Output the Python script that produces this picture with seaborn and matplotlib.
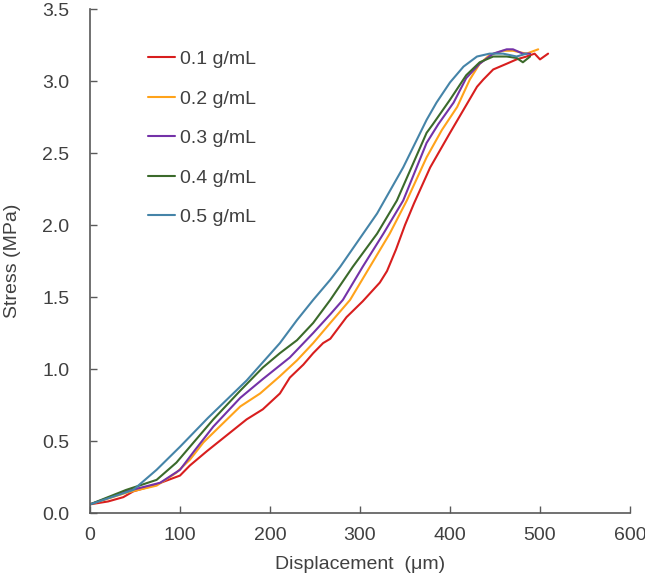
import numpy as np
import pandas as pd
import matplotlib
matplotlib.use("Agg")
import matplotlib.pyplot as plt
import seaborn as sns

labels = ["0.1 g/mL", "0.2 g/mL", "0.3 g/mL", "0.4 g/mL", "0.5 g/mL"]
colors = ["#d81e1e", "#ffa31a", "#7432a8", "#3b6a2b", "#4584a8"]

x_01 = [0, 20, 37, 48, 70, 100, 111, 130, 152, 174, 192, 211, 222, 237, 248, 259, 267, 285, 303,
        322, 330, 340, 350, 360, 378, 400, 415, 430, 437, 448, 463, 474, 485, 494, 500, 509]
y_01 = [0.06, 0.08, 0.11, 0.15, 0.19, 0.26, 0.33, 0.43, 0.54, 0.65, 0.72, 0.83, 0.94, 1.03, 1.11, 1.18,
        1.21, 1.36, 1.47, 1.60, 1.68, 1.83, 2.00, 2.15, 2.40, 2.64, 2.80, 2.96, 3.01, 3.08, 3.12, 3.15,
        3.17, 3.19, 3.15, 3.19]

x_02 = [0, 40, 74, 96, 111, 126, 144, 167, 189, 211, 230, 248, 267, 289, 311, 333, 352, 374, 391,
        408, 422, 433, 444, 459, 470, 485, 498]
y_02 = [0.06, 0.14, 0.19, 0.28, 0.37, 0.49, 0.60, 0.74, 0.83, 0.95, 1.06, 1.18, 1.32, 1.48, 1.71,
        1.94, 2.17, 2.47, 2.66, 2.82, 3.01, 3.12, 3.18, 3.21, 3.21, 3.19, 3.22]

x_03 = [0, 40, 78, 100, 117, 137, 167, 192, 222, 248, 267, 281, 303, 326, 348, 374, 387, 404, 418,
        433, 448, 463, 470, 481, 489]
y_03 = [0.06, 0.15, 0.21, 0.30, 0.44, 0.60, 0.80, 0.93, 1.08, 1.25, 1.38, 1.48, 1.71, 1.94, 2.17,
        2.57, 2.70, 2.85, 3.02, 3.12, 3.19, 3.22, 3.22, 3.19, 3.19]

x_04 = [0, 40, 74, 96, 111, 137, 167, 192, 211, 230, 248, 267, 292, 319, 341, 374, 381, 400, 418,
        433, 448, 463, 474, 481, 489]
y_04 = [0.06, 0.16, 0.23, 0.35, 0.46, 0.65, 0.85, 1.01, 1.11, 1.20, 1.32, 1.48, 1.71, 1.94, 2.17,
        2.64, 2.70, 2.87, 3.04, 3.13, 3.17, 3.17, 3.16, 3.13, 3.17]

x_05 = [0, 48, 74, 100, 131, 174, 211, 230, 248, 267, 278, 319, 348, 374, 385, 400, 415, 430, 444,
        459, 474, 485]
y_05 = [0.06, 0.16, 0.30, 0.46, 0.66, 0.92, 1.18, 1.34, 1.48, 1.62, 1.71, 2.08, 2.40, 2.73, 2.85,
        2.99, 3.10, 3.17, 3.19, 3.19, 3.17, 3.19]

xs = [x_01, x_02, x_03, x_04, x_05]
ys = [y_01, y_02, y_03, y_04, y_05]

frames = []
for lab, x, y in zip(labels, xs, ys):
    frames.append(pd.DataFrame({"disp": x, "stress": y, "conc": lab}))
df = pd.concat(frames, ignore_index=True)

sns.set_style("white")
plt.rcParams["font.family"] = ["Liberation Sans", "DejaVu Sans"]

text_c = "#404040"
spine_c = "#595959"
fs = 14

fig = plt.figure(figsize=(6.45, 5.8), dpi=100)
ax = fig.add_axes([90 / 645, 67 / 580, 540 / 645, 504 / 580])

sns.lineplot(data=df, x="disp", y="stress", hue="conc", hue_order=labels,
             palette=dict(zip(labels, colors)), sort=False, estimator=None,
             linewidth=1.5, ax=ax)

ax.set_xlim(0, 600)
ax.set_ylim(0, 3.5)
ax.set_xticks(np.arange(0, 601, 100))
ax.set_yticks(np.arange(0, 3.51, 0.5))
ax.set_yticklabels([f"{v:.1f}" for v in np.arange(0, 3.51, 0.5)])
ax.tick_params(direction="in", length=5, width=1, color=spine_c, labelcolor=text_c,
               labelsize=fs, left=True, bottom=True)
ax.tick_params(axis="y", pad=15)
ax.tick_params(axis="x", pad=10)
for s in ["top", "right"]:
    ax.spines[s].set_visible(False)
for s in ["left", "bottom"]:
    ax.spines[s].set_color(spine_c)
    ax.spines[s].set_linewidth(1.2)

ax.set_xlabel("Displacement  (μm)", fontsize=fs, color=text_c, labelpad=9)
ax.set_ylabel("Stress (MPa)", fontsize=fs, color=text_c, labelpad=15)

leg = ax.legend(loc="upper left", bbox_to_anchor=(0.107, 0.918), frameon=False,
                fontsize=fs, handlelength=1.4, handletextpad=0.25, labelspacing=1.13,
                borderpad=0, borderaxespad=0)
for t in leg.get_texts():
    t.set_color(text_c)

fig.savefig("out.png", dpi=100)
